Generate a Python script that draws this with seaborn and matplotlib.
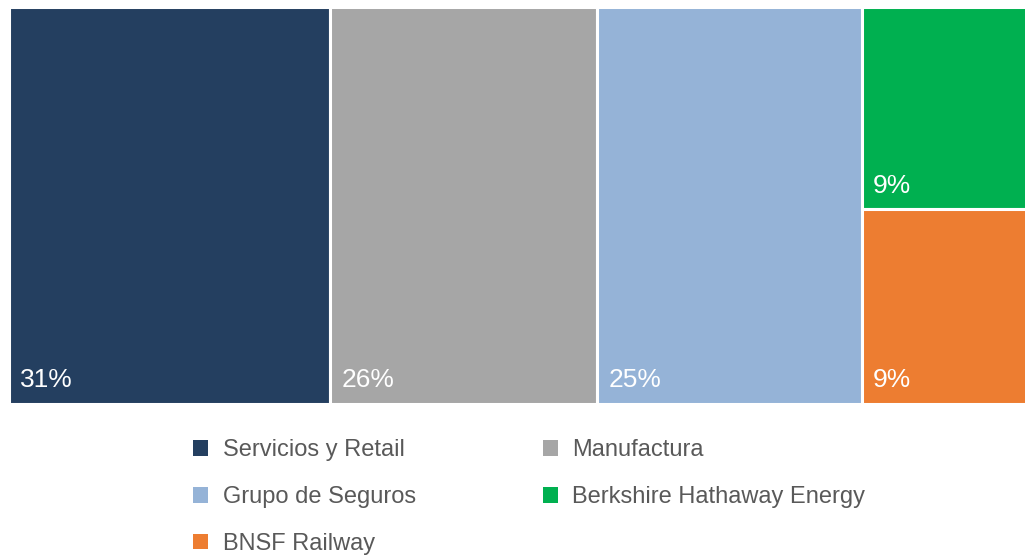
import matplotlib.pyplot as plt
from matplotlib.patches import Patch
import seaborn as sns

# data
segments = ["Servicios y Retail", "Manufactura", "Grupo de Seguros",
            "Berkshire Hathaway Energy", "BNSF Railway"]
shares = [31.0, 25.7, 25.5, 9.2, 8.8]
pct_labels = ["31%", "26%", "25%", "9%", "9%"]
colors = ["#243F60", "#A6A6A6", "#95B3D7", "#00B050", "#ED7D31"]

sns.set_theme(style="white")
plt.rcParams['font.family'] = ['Liberation Sans', 'DejaVu Sans']

W, H = 1025, 555
fig = plt.figure(figsize=(W / 100, H / 100), dpi=100)

# treemap: first three are full-height columns, last two stack in the last column
total = sum(shares)
px_per_unit = 10.38
left_px, top_px, bottom_px = 8.5, 6.5, 403.5
ax = fig.add_axes([left_px / W, 1 - bottom_px / H,
                   total * px_per_unit / W, (bottom_px - top_px) / H])

last = shares[3] + shares[4]
lefts, bottoms, widths, heights = [], [], [], []
x = 0
for v in shares[:3]:
    lefts.append(x); bottoms.append(0); widths.append(v); heights.append(1)
    x += v
# green on top, orange below
lefts += [x, x]
bottoms += [shares[4] / last, 0]
widths += [last, last]
heights += [shares[3] / last, shares[4] / last]

ax.bar(lefts, heights, width=widths, bottom=bottoms, align='edge',
       color=colors, edgecolor='white', linewidth=2.2)
for l, b, lab in zip(lefts, bottoms, pct_labels):
    ax.annotate(lab, (l, b), xytext=(8, 8), textcoords='offset points',
                color='white', fontsize=19, ha='left', va='bottom')

ax.set_xlim(0, total)
ax.set_ylim(0, 1)
ax.axis('off')

# legend, filled column by column
order = [0, 2, 4, 1, 3]
handles = [Patch(facecolor=colors[i], edgecolor='none', label=segments[i]) for i in order]
fig.legend(handles=handles, loc='upper left', bbox_to_anchor=(172 / W, 1 - 418 / H),
           ncol=2, frameon=False, fontsize=17, labelcolor='#595959',
           handlelength=0.64, handleheight=0.64, handletextpad=0.6,
           labelspacing=1.05, columnspacing=5.4)

fig.savefig('out.png', dpi=100)
